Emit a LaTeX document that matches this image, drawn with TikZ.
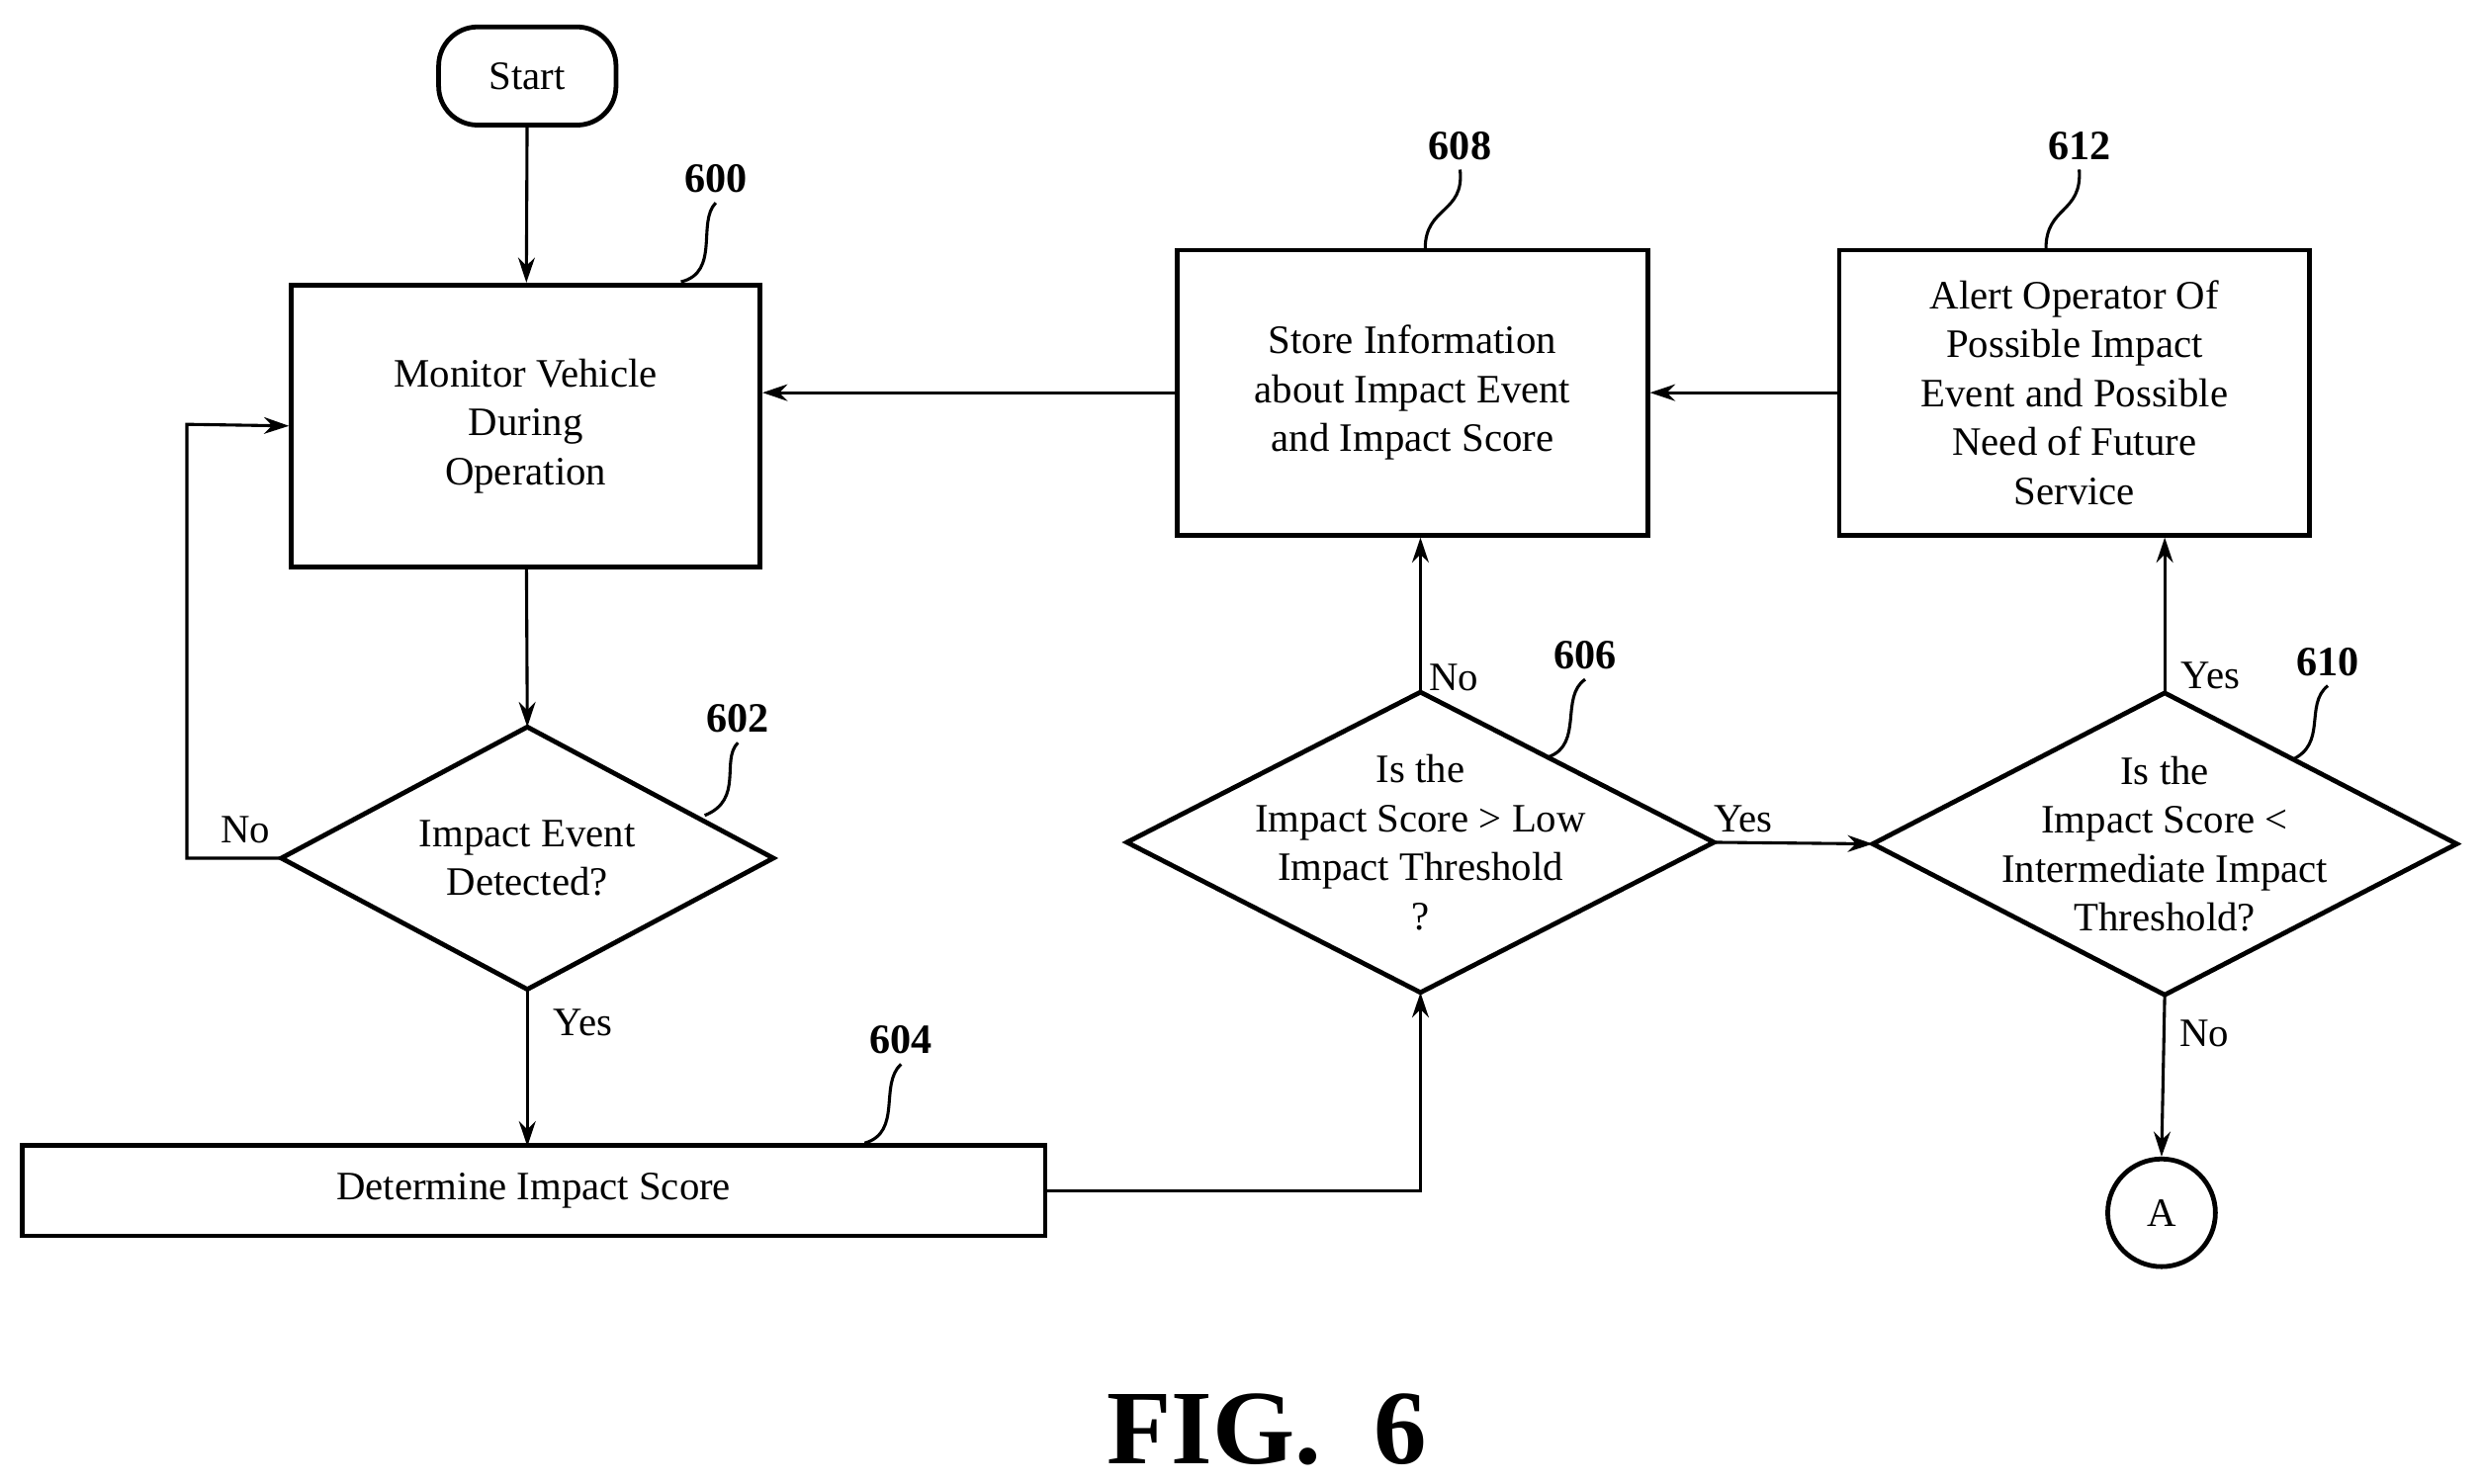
\documentclass[tikz,border=0pt]{standalone}
\usepackage{fontspec}
\setmainfont{Liberation Serif}
\usetikzlibrary{arrows.meta}
\begin{document}
\begin{tikzpicture}[x=0.02cm,y=-0.02cm,
 every node/.style={font=\fontsize{14.5}{17.6}\selectfont},
 box/.style={draw,line width=1.7pt,inner sep=0,align=center},
 dia/.style={inner sep=0,align=center},
 lbl/.style={font=\fontsize{15}{18}\selectfont\bfseries},
 yn/.style={font=\fontsize{14.5}{17.6}\selectfont},
 ar/.style={line width=1.1pt,-{Stealth[length=9pt,width=6pt]}},
 ld/.style={line width=1.1pt}]
\useasboundingbox (0,0) rectangle (1568,937);
\node[box,rounded corners=14pt,minimum width=112*0.02cm,minimum height=62*0.02cm] (start) at (333,48) {Start};
\node[box,minimum width=296*0.02cm,minimum height=178*0.02cm] (b600) at (332,269) {Monitor Vehicle\\During\\Operation};
\node[dia,minimum width=310*0.02cm,minimum height=165*0.02cm] (d602) at (333,542) {Impact Event\\Detected?};
\node[box,minimum width=646*0.02cm,minimum height=57*0.02cm] (b604) at (337,752) {Determine Impact Score};
\node[dia,minimum width=370*0.02cm,minimum height=189*0.02cm] (d606) at (897,532) {Is the\\Impact Score {>} Low\\Impact Threshold\\?};
\node[box,minimum width=297*0.02cm,minimum height=180*0.02cm] (b608) at (892,248) {Store Information\\about Impact Event\\and Impact Score};
\node[box,minimum width=297*0.02cm,minimum height=180*0.02cm] (b612) at (1310,248) {Alert Operator Of\\Possible Impact\\Event and Possible\\Need of Future\\Service};
\node[dia,minimum width=368*0.02cm,minimum height=190*0.02cm] (d610) at (1367,533) {Is the\\Impact Score {<}\\Intermediate Impact\\Threshold?};
\node[draw,circle,line width=1.7pt,minimum size=68*0.02cm,inner sep=0] (A) at (1365,766) {A};
\foreach \d in {d602,d606,d610}
 \draw[line width=1.7pt] (\d.north)--(\d.east)--(\d.south)--(\d.west)--cycle;
% labels
\node[lbl] (l600) at (452,113) {600};
\node[lbl] (l602) at (466,454) {602};
\node[lbl] (l604) at (569,657) {604};
\node[lbl] (l606) at (1001,414) {606};
\node[lbl] (l608) at (922,92) {608};
\node[lbl] (l612) at (1313,92) {612};
\node[lbl] (l610) at (1470,418) {610};
\draw[ld] (430,178) .. controls (455,172) and (440,140) .. (l600.south);
\draw[ld] (445,515) .. controls (470,505) and (455,480) .. (l602.south);
\draw[ld] (546,722) .. controls (570,715) and (555,685) .. (l604.south);
\draw[ld] (978,478) .. controls (1000,470) and (985,440) .. (l606.south);
\draw[ld] (900,157) .. controls (900,130) and (925,135) .. (l608.south);
\draw[ld] (1292,157) .. controls (1292,130) and (1315,135) .. (l612.south);
\draw[ld] (1447,480) .. controls (1470,470) and (1455,445) .. (l610.south);
% connectors
\draw[ar] (start) -- (b600);
\draw[ar] (b600) -- (d602.north);
\draw[ar] (d602.west) -- (118,542) -- (118,268) -- (b600.west);
\node[yn] (n1) at (155,524) {No};
\draw[ar] (d602.south) -- (333,724);
\node[yn] (y1) at (368,646) {Yes};
\draw[ar] (b604.east) -| (d606.south);
\draw[ar] (d606.north) -- (b608.south-|d606.north);
\node[yn] (n2) at (918,428) {No};
\draw[ar] (d606.east) -- (d610.west);
\node[yn] (y2) at (1101,517) {Yes};
\draw[ar] (d610.north) -- (b612.south-|d610.north);
\node[yn] (y3) at (1396,427) {Yes};
\draw[ar] (d610.south) -- (A.north);
\node[yn] (n3) at (1392,653) {No};
\draw[ar] (b612.west) -- (b608.east);
\draw[ar] (b608.west) -- (b600.east|-b608.west);
\node[font=\fontsize{38}{44}\selectfont\bfseries] (fig) at (800,903) {FIG.\ \ 6};
\end{tikzpicture}
\end{document}
